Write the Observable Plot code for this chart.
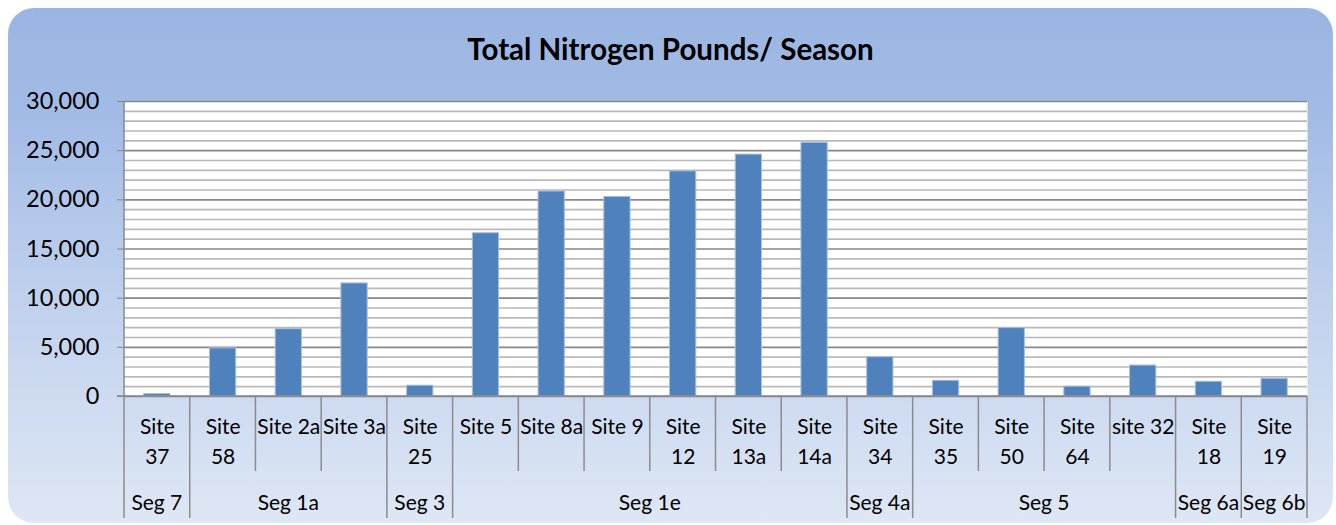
<!DOCTYPE html>
<html>
<head>
<meta charset="utf-8">
<script src="https://cdn.jsdelivr.net/npm/d3@7"></script>
<script src="https://cdn.jsdelivr.net/npm/@observablehq/plot@0.6"></script>
<style>
  html, body { margin: 0; padding: 0; background: #ffffff; }
  #wrap { position: relative; width: 1336px; height: 525px; overflow: hidden; font-family: Lato, "Open Sans", sans-serif; }
  #bg { position: absolute; left: 8px; top: 8px; width: 1325px; height: 515px; border-radius: 26px;
        background: linear-gradient(to bottom, #9bb5e2 0%, #a3bce6 22%, #c3d3ee 60%, #dee7f5 100%); }
  #title { position: absolute; left: 8px; top: 33px; width: 1325px; text-align: center; font-weight: 700;
           font-size: 29.5px; line-height: 32px; color: #000; font-family: Lato, sans-serif; }
  #chart { position: absolute; left: 0; top: 0; }
</style>
</head>
<body>
<div id="wrap">
  <div id="bg"></div>
  <div id="title">Total Nitrogen Pounds/ Season</div>
  <div id="chart"></div>
</div>
<script>
const sites = ["Site 37","Site 58","Site 2a","Site 3a","Site 25","Site 5","Site 8a","Site 9","Site 12","Site 13a","Site 14a","Site 34","Site 35","Site 50","Site 64","site 32","Site 18","Site 19"];
const siteLabels = ["Site\n37","Site\n58","Site 2a","Site 3a","Site\n25","Site 5","Site 8a","Site 9","Site\n12","Site\n13a","Site\n14a","Site\n34","Site\n35","Site\n50","Site\n64","site 32","Site\n18","Site\n19"];
const values = [250, 4900, 6850, 11500, 1100, 16600, 20850, 20300, 22900, 24600, 25800, 4000, 1600, 6950, 1000, 3150, 1500, 1800];
const segNames = ["Seg 7","Seg 1a","Seg 3","Seg 1e","Seg 4a","Seg 5","Seg 6a","Seg 6b"];
const segCounts = [1, 3, 1, 6, 1, 4, 1, 1];
const yTicks = [0, 5000, 10000, 15000, 20000, 25000, 30000];

const data = sites.map((s, i) => ({site: s, label: siteLabels[i], value: values[i]}));
const minor = d3.range(0, 30001, 1000).filter(v => v % 5000 !== 0);

const segs = [];
{ let k = 0; segNames.forEach((n, i) => { segs.push({name: n, first: sites[k], last: sites[k + segCounts[i] - 1]}); k += segCounts[i]; }); }
const segStarts = new Set(segs.map(s => s.first));

function categoryAxis(index, scales, values, dimensions) {
  const x = scales.x;
  const bw = x.bandwidth();
  const step = x.step();
  const y0 = dimensions.height - dimensions.marginBottom;
  const g = d3.create("svg:g");
  const left = s => x(s) + bw / 2 - step / 2;
  const right = s => x(s) + bw / 2 + step / 2;
  sites.forEach((s, i) => {
    const long = segStarts.has(s);
    g.append("line").attr("x1", left(s)).attr("x2", left(s))
      .attr("y1", i === 0 ? dimensions.marginTop : y0).attr("y2", y0 + (long ? 122 : 75))
      .attr("stroke", "#8c8c8c").attr("stroke-width", 1.5);
  });
  const last = sites[sites.length - 1];
  g.append("line").attr("x1", right(last)).attr("x2", right(last))
    .attr("y1", y0).attr("y2", y0 + 122).attr("stroke", "#8c8c8c").attr("stroke-width", 1.5);
  g.append("line").attr("x1", dimensions.marginLeft - 7).attr("x2", dimensions.width - dimensions.marginRight)
    .attr("y1", y0).attr("y2", y0).attr("stroke", "#868686").attr("stroke-width", 1.5);
  segs.forEach(sg => {
    g.append("text").attr("x", (left(sg.first) + right(sg.last)) / 2).attr("y", y0 + 114)
      .attr("text-anchor", "middle").attr("font-size", 21).attr("fill", "#000").text(sg.name);
  });
  return g.node();
}

const chart = Plot.plot({
  width: 1336,
  height: 525,
  marginLeft: 124,
  marginRight: 29,
  marginTop: 101,
  marginBottom: 129,
  style: {background: "transparent", fontFamily: "Lato, sans-serif", fontSize: "21px", overflow: "visible", color: "#000"},
  x: {domain: sites, paddingInner: 0.6, paddingOuter: 0.3, round: false, axis: null},
  y: {domain: [0, 30000], ticks: yTicks, tickFormat: d3.format(","), tickSize: 7, tickPadding: 18, label: null},
  marks: [
    Plot.frame({fill: "white", stroke: null}),
    Plot.ruleY(minor, {stroke: "#b9b9b9", strokeWidth: 1.6}),
    Plot.ruleY(yTicks, {stroke: "#878787", strokeWidth: 1.6}),
    Plot.barY(data, {x: "site", y: "value", fill: "#4f81bd", stroke: "#a9c0df", strokeWidth: 1}),
    Plot.text(data, {x: "site", text: "label", frameAnchor: "bottom", lineAnchor: "top", dy: 17, lineHeight: 1.4, fontSize: 21, fill: "#000"}),
    categoryAxis
  ]
});
d3.select(chart).selectAll("[aria-label='y-axis tick'] path, [aria-label='y-axis'] line").attr("stroke", "#868686");
d3.select(chart).selectAll("[aria-label='y-axis tick label'] text, [aria-label='y-axis'] text").attr("font-size", 23.5);
document.getElementById("chart").appendChild(chart);
</script>
</body>
</html>
